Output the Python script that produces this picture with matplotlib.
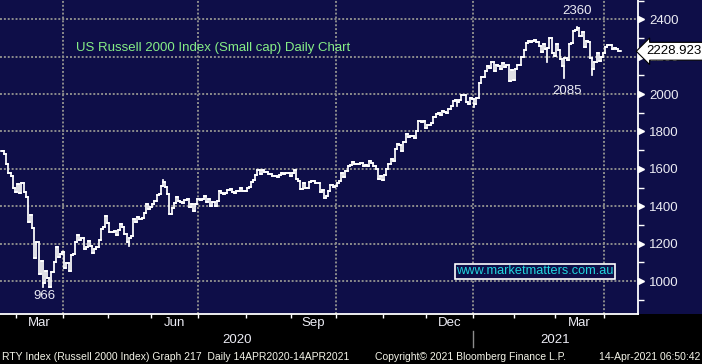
import numpy as np
import pandas as pd
import matplotlib
matplotlib.use("Agg")
import matplotlib.pyplot as plt
from matplotlib.collections import LineCollection
from matplotlib.transforms import blended_transform_factory, offset_copy

# trading days, NYSE holidays removed
holidays = ["2020-04-10", "2020-05-25", "2020-07-03", "2020-09-07",
            "2020-11-26", "2020-12-25", "2021-01-01", "2021-01-18",
            "2021-02-15", "2021-04-02"]

# daily closes, month by month
closes = [
    # Feb 2020
    1693, 1678, 1628, 1577, 1559, 1497, 1476,
    # Mar
    1518, 1473, 1526, 1474, 1449, 1313, 1351, 1282, 1122, 1210, 1037,
    1107, 991, 1054, 1014, 967, 1047, 1100, 1180, 1131, 1145, 1153,
    # Apr
    1071, 1098, 1052, 1138, 1143, 1207, 1246, 1217, 1232, 1171, 1182,
    1216, 1186, 1148, 1169, 1182, 1218, 1280, 1290, 1347, 1310,
    # May
    1261, 1262, 1268, 1245, 1275, 1305, 1290, 1250, 1210, 1230, 1240,
    1332, 1315, 1345, 1333, 1337, 1366, 1412, 1384, 1394,
    # Jun
    1412, 1427, 1459, 1463, 1508, 1532, 1503, 1464, 1356, 1389, 1419,
    1447, 1430, 1423, 1418, 1431, 1440, 1395, 1414, 1376, 1414, 1441,
    # Jul
    1433, 1439, 1456, 1425, 1438, 1401, 1423, 1403, 1429, 1482, 1470,
    1467, 1470, 1488, 1490, 1474, 1470, 1480, 1479, 1499, 1479, 1480,
    # Aug
    1496, 1502, 1530, 1539, 1568, 1594, 1573, 1592, 1582, 1585, 1574,
    1570, 1562, 1561, 1554, 1567, 1575, 1571, 1579, 1579, 1561,
    # Sep
    1575, 1592, 1544, 1536, 1490, 1522, 1497, 1497, 1532, 1535, 1534,
    1525, 1525, 1477, 1487, 1445, 1456, 1483, 1514, 1504, 1508,
    # Oct
    1524, 1533, 1575, 1555, 1590, 1613, 1621, 1634, 1624, 1626, 1627,
    1632, 1613, 1621, 1613, 1642, 1630, 1613, 1599, 1548, 1560, 1538,
    # Nov
    1568, 1597, 1624, 1652, 1644, 1705, 1733, 1729, 1697, 1742, 1788,
    1771, 1773, 1774, 1767, 1802, 1855, 1850, 1856, 1820,
    # Dec
    1835, 1837, 1843, 1876, 1894, 1897, 1888, 1910, 1904, 1900, 1919,
    1936, 1962, 1969, 1958, 1968, 1996, 1995, 1960, 1945, 1977, 1975,
    # Jan 2021
    1945, 1979, 2057, 2092, 2091, 2122, 2148, 2137, 2170, 2123, 2153,
    2150, 2135, 2164, 2147, 2158, 2072, 2128, 2074,
    # Feb
    2132, 2156, 2153, 2198, 2234, 2271, 2286, 2277, 2282, 2289, 2276,
    2258, 2226, 2266, 2243, 2244, 2298, 2221, 2201,
    # Mar
    2268, 2236, 2190, 2151, 2192, 2182, 2269, 2271, 2338, 2344, 2352,
    2312, 2331, 2249, 2286, 2276, 2195, 2132, 2173, 2221, 2177, 2200, 2221,
    # Apr
    2253, 2264, 2261, 2241, 2244, 2243, 2230, 2228.923,
]

# notable intraday extremes (wicks)
wick_dates = ["2020-03-18", "2020-03-23", "2020-05-14", "2020-06-08",
              "2020-12-21", "2021-01-04", "2021-02-23", "2021-03-05",
              "2021-03-15", "2021-03-24"]
wick_values = [966, 970, 1188, 1542, 1935, 1933, 2170, 2085, 2360, 2103]

y_ticks = [1000, 1200, 1400, 1600, 1800, 2000, 2200, 2400]
month_names = {3: "Mar", 6: "Jun", 9: "Sep", 12: "Dec"}

navy = "#0e0e48"
grid_col = "#8c8c8c"
txt_col = "#ececf4"

dates = pd.bdate_range("2020-02-20", "2021-04-13")
dates = dates[~dates.isin(pd.to_datetime(holidays))]
closes = np.array(closes, dtype=float)
assert len(dates) == len(closes)
idx = np.arange(len(closes))

opens = np.r_[closes[0], closes[:-1]]
highs = np.maximum(opens, closes)
lows = np.minimum(opens, closes)
for d, v in zip(pd.to_datetime(wick_dates), wick_values):
    k = dates.get_loc(d)
    highs[k] = max(highs[k], v)
    lows[k] = min(lows[k], v)

plt.rcParams['font.family'] = ['Liberation Sans', 'DejaVu Sans']

fig = plt.figure(figsize=(7.02, 3.64), dpi=100, facecolor="black")
fig.patches.append(plt.Rectangle((0, 50 / 364), 1, 1, transform=fig.transFigure,
                                 facecolor=navy, zorder=-10))
ax = fig.add_axes([0, 50 / 364, 638 / 702, 314 / 364])
ax.set_facecolor(navy)

segs = []
for i in idx:
    segs.append([(i, lows[i]), (i, highs[i])])
    segs.append([(i - 0.5, opens[i]), (i, opens[i])])
    segs.append([(i, closes[i]), (i + 0.5, closes[i])])
ax.add_collection(LineCollection(segs, colors="white", linewidths=1.25,
                                 capstyle="projecting", zorder=3))

ax.set_xlim(-0.96, 296.3)
ax.set_ylim(823.5, 2503)

# month boundaries
new_month = np.flatnonzero(np.r_[False, dates.month[1:] != dates.month[:-1]])
bounds = new_month - 0.5
ax.set_xticks(bounds)
ax.set_xticklabels([])
ax.tick_params(axis="x", colors="white", length=3, width=1, direction="out")
for b, k in zip(bounds, new_month):
    if dates[k].month in (1, 4, 7, 10):
        ax.axvline(b, color=grid_col, lw=1.4, ls=(0, (1, 1)), zorder=1)
for y in y_ticks:
    ax.axhline(y, color=grid_col, lw=1.4, ls=(0, (1, 1)), zorder=1)

# right axis
ax.yaxis.tick_right()
ax.set_yticks(y_ticks)
ax.set_yticks(np.arange(900, 2501, 100), minor=True)
ax.tick_params(axis="y", which="major", length=0, pad=8,
               labelcolor=txt_col, labelsize=9.5)
ax.tick_params(axis="y", which="minor", length=4, width=1, colors="white")
for s in ("top", "left"):
    ax.spines[s].set_visible(False)
for s in ("right", "bottom"):
    ax.spines[s].set_color("white")
    ax.spines[s].set_linewidth(1.3)

ytrans = blended_transform_factory(ax.transAxes, ax.transData)
ax.plot(np.ones(len(y_ticks)), y_ticks, ls="none", marker=">", ms=5,
        color="white", clip_on=False,
        transform=offset_copy(ytrans, fig=fig, x=3, units="dots"))

# last price tag
ax.text(1.0, closes[-1], f"{closes[-1]:.3f}", color="black", fontsize=9.5,
        va="center", ha="left",
        transform=offset_copy(ytrans, fig=fig, x=8, units="dots"),
        bbox=dict(boxstyle="larrow,pad=0.22", fc="white", ec="black", lw=0.8),
        clip_on=False, zorder=5)

# bottom labels
xtrans = blended_transform_factory(ax.transData, ax.transAxes)
for m, name in month_names.items():
    for yr in (2020, 2021):
        sel = (dates.month == m) & (dates.year == yr)
        if sel.any():
            ax.text(idx[sel].mean(), -0.029, name, transform=xtrans,
                    ha="center", va="center", color=txt_col, fontsize=9.5)
year_split = bounds[dates[new_month].year == 2021][0]
x0, x1 = ax.get_xlim()
ax.text((x0 + year_split) / 2, -0.083, "2020", transform=xtrans,
        ha="center", va="center", color=txt_col, fontsize=9.5)
ax.text((year_split + x1) / 2, -0.083, "2021", transform=xtrans,
        ha="center", va="center", color=txt_col, fontsize=9.5)
ax.plot([year_split, year_split], [-0.054, -0.105], color=grid_col, lw=1,
        transform=xtrans, clip_on=False)

# annotations
k_hi = int(np.argmax(highs[200:])) + 200
ax.annotate(f"{highs[k_hi]:.0f}", (k_hi, highs[k_hi]), xytext=(0, 11),
            textcoords="offset points", ha="center", va="center",
            color=txt_col, fontsize=9.5)
k_lo = dates.get_loc(pd.Timestamp("2021-03-05"))
ax.annotate(f"{lows[k_lo]:.0f}", (k_lo, lows[k_lo]), xytext=(2, -9),
            textcoords="offset points", ha="center", va="center",
            color=txt_col, fontsize=9.5)
k_min = int(np.argmin(lows))
ax.annotate(f"{lows[k_min]:.0f}", (k_min, lows[k_min]), xytext=(1.5, -6),
            textcoords="offset points", ha="center", va="center",
            color=txt_col, fontsize=9.5)

ax.text(0.119, 0.847, "US Russell 2000 Index (Small cap) Daily Chart",
        transform=ax.transAxes, ha="left", va="center", color="#86ee86",
        fontsize=9.5)
ax.text(535 / 638, 1 - 271.5 / 314, "www.marketmatters.com.au",
        transform=ax.transAxes, ha="center", va="center", color="#22d6de",
        fontsize=9.2, zorder=6,
        bbox=dict(boxstyle="square,pad=0.12", fc=navy, ec="white", lw=1.2))

# footer
fig.text(2 / 702, 7 / 364, "RTY Index (Russell 2000 Index) Graph 217  Daily 14APR2020-14APR2021",
         ha="left", va="center", color="#f4f4e8", fontsize=7.5)
fig.text(375 / 702, 7 / 364, "Copyright\u00a9 2021 Bloomberg Finance L.P.",
         ha="left", va="center", color="#f4f4e8", fontsize=7.5)
fig.text(700 / 702, 7 / 364, "14-Apr-2021 06:50:42",
         ha="right", va="center", color="#f4f4e8", fontsize=7.5)

fig.savefig("out.png", dpi=100, facecolor=fig.get_facecolor())
